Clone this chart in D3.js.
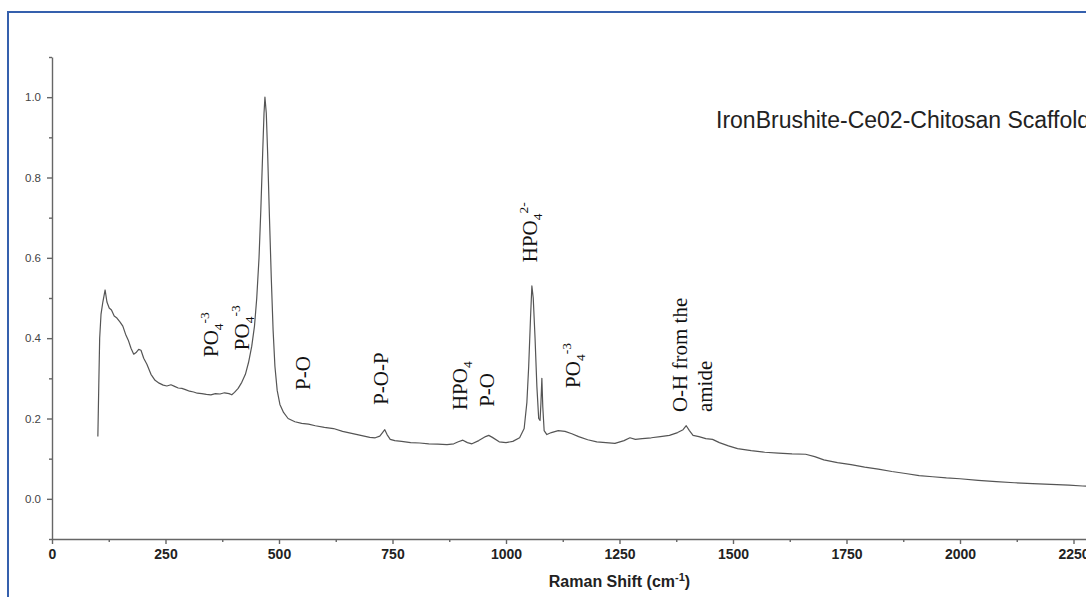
<!DOCTYPE html>
<html>
<head>
<meta charset="utf-8">
<script src="https://cdn.jsdelivr.net/npm/d3@7"></script>
<style>
  body { margin: 0; background: #fff; }
  svg { display: block; }
</style>
</head>
<body>
<svg id="chart"></svg>
<script>
// spectrum
const ramanShift = [101,103,105,108,112,117,121,126,131,137,143,150,156,162,168,174,180,186,191,196,202,209,218,227,236,245,253,262,270,278,286,294,303,312,320,330,340,350,360,370,380,390,396,402,410,418,426,433,440,446,451,456,460,464,467,469,472,475,479,483,487,491,496,502,510,520,535,550,565,580,600,620,640,660,680,700,712,722,728,733,738,745,755,770,790,810,830,850,870,885,895,905,915,925,940,955,962,970,985,1000,1015,1030,1040,1046,1050,1054,1057,1060,1064,1068,1072,1075,1077,1079,1081,1084,1090,1100,1115,1130,1145,1160,1180,1200,1220,1240,1260,1273,1285,1300,1320,1340,1360,1378,1390,1397,1404,1412,1425,1440,1455,1470,1490,1510,1540,1570,1600,1630,1660,1680,1700,1730,1760,1790,1820,1850,1880,1910,1940,1970,2000,2040,2080,2120,2160,2200,2240,2270,2300];
const intensity = [0.155,0.28,0.40,0.46,0.49,0.52,0.49,0.475,0.47,0.455,0.45,0.44,0.43,0.41,0.395,0.375,0.36,0.365,0.372,0.37,0.35,0.335,0.31,0.295,0.288,0.283,0.281,0.284,0.28,0.276,0.275,0.272,0.268,0.266,0.263,0.262,0.26,0.259,0.262,0.261,0.264,0.262,0.259,0.265,0.275,0.29,0.31,0.34,0.38,0.43,0.50,0.60,0.72,0.86,0.96,1.0,0.96,0.86,0.70,0.55,0.42,0.33,0.27,0.235,0.215,0.2,0.192,0.188,0.186,0.182,0.178,0.175,0.168,0.163,0.158,0.153,0.152,0.156,0.165,0.172,0.16,0.148,0.145,0.143,0.14,0.139,0.137,0.136,0.135,0.137,0.142,0.146,0.14,0.137,0.145,0.155,0.158,0.153,0.142,0.14,0.143,0.152,0.175,0.24,0.33,0.45,0.53,0.50,0.40,0.28,0.2,0.195,0.24,0.30,0.23,0.17,0.16,0.165,0.17,0.168,0.162,0.155,0.147,0.142,0.14,0.138,0.145,0.152,0.148,0.15,0.152,0.155,0.158,0.165,0.172,0.182,0.17,0.158,0.155,0.15,0.148,0.14,0.132,0.125,0.12,0.116,0.114,0.112,0.111,0.105,0.097,0.09,0.085,0.079,0.074,0.068,0.063,0.058,0.055,0.052,0.05,0.046,0.043,0.04,0.038,0.036,0.034,0.032,0.031];

const xTicks = [0,250,500,750,1000,1250,1500,1750,2000,2250];
const yTicks = [0,0.2,0.4,0.6,0.8,1.0];

// peak labels: [base text, subscript, superscript], placed at shift / intensity
const peakLabels = [
  { lines: [["PO", "4", "-3"]], shift: 366, level: 0.353 },
  { lines: [["PO", "4", "-3"]], shift: 434, level: 0.37 },
  { lines: [["P-O", "", ""]], shift: 568, level: 0.271 },
  { lines: [["P-O-P", "", ""]], shift: 740, level: 0.234 },
  { lines: [["HPO", "4", ""]], shift: 914, level: 0.221 },
  { lines: [["P-O", "", ""]], shift: 974, level: 0.229 },
  { lines: [["HPO", "4", "2-"]], shift: 1068, level: 0.589 },
  { lines: [["PO", "4", "-3"]], shift: 1163, level: 0.276 },
  { lines: [["O-H from the", "", ""], ["amide", "", ""]], shift: 1399, level: 0.216 }
];

const width = 1086, height = 597;
const svg = d3.select("#chart").attr("width", width).attr("height", height);

// blue frame around the figure
svg.append("rect")
  .attr("x", 8).attr("y", 12)
  .attr("width", 1100).attr("height", 620)
  .attr("fill", "none")
  .attr("stroke", "#3560ad")
  .attr("stroke-width", 2);

const x = d3.scaleLinear().domain([0, 2500]).range([52, 1187]);
const y = d3.scaleLinear().domain([-0.1, 1.1]).range([539, 57]);

// minor ticks
svg.append("g")
  .attr("transform", "translate(0,539)")
  .call(d3.axisBottom(x).tickValues(xTicks.map(d => d + 125)).tickSize(3).tickFormat(""))
  .call(g => g.select(".domain").remove());
svg.append("g")
  .attr("transform", "translate(52,0)")
  .call(d3.axisLeft(y).tickValues(yTicks.map(d => d - 0.1).concat([1.1])).tickSize(3).tickFormat(""))
  .call(g => g.select(".domain").remove());

// major axes
const xAxis = svg.append("g")
  .attr("transform", "translate(0,539)")
  .call(d3.axisBottom(x).tickValues(xTicks).tickFormat(d3.format("d")).tickSize(5).tickSizeOuter(0).tickPadding(5));
xAxis.selectAll("text")
  .attr("font-family", "Arial, 'Liberation Sans', sans-serif")
  .attr("font-size", 14).attr("font-weight", "bold").attr("fill", "#222");

const yAxis = svg.append("g")
  .attr("transform", "translate(52,0)")
  .call(d3.axisLeft(y).tickValues(yTicks).tickFormat(d3.format(".1f")).tickSize(5).tickSizeOuter(0).tickPadding(6));
yAxis.selectAll("text")
  .attr("font-family", "Arial, 'Liberation Sans', sans-serif")
  .attr("font-size", 11.5).attr("fill", "#444");

svg.selectAll(".domain, .tick line")
  .attr("stroke", "#666").attr("stroke-width", 1.4);

// x axis title
const xTitle = svg.append("text")
  .attr("x", x(1250)).attr("y", 587)
  .attr("text-anchor", "middle")
  .attr("font-family", "Arial, 'Liberation Sans', sans-serif")
  .attr("font-size", 16).attr("font-weight", "bold").attr("fill", "#222");
xTitle.append("tspan").text("Raman Shift (cm");
xTitle.append("tspan").attr("font-size", 11).attr("dy", -6).text("-1");
xTitle.append("tspan").attr("dy", 6).text(")");

// spectrum
const line = d3.line()
  .x((d, i) => x(ramanShift[i]))
  .y(d => y(d));
svg.append("path")
  .datum(intensity)
  .attr("d", line)
  .attr("fill", "none")
  .attr("stroke", "#555")
  .attr("stroke-width", 1.2)
  .attr("stroke-linejoin", "round");

// sample name
svg.append("text")
  .attr("x", 716).attr("y", 128)
  .attr("font-family", "Arial, 'Liberation Sans', sans-serif")
  .attr("font-size", 23).attr("fill", "#222")
  .text("IronBrushite-Ce02-Chitosan Scaffold");

// rotated peak assignments
peakLabels.forEach(p => {
  p.lines.forEach((ln, k) => {
    const px = x(p.shift) + k * 25, py = y(p.level);
    const t = svg.append("text")
      .attr("transform", `translate(${px},${py}) rotate(-90)`)
      .attr("font-family", "'Times New Roman', 'Liberation Serif', serif")
      .attr("font-size", 21).attr("fill", "#111");
    t.append("tspan").text(ln[0]);
    let shiftY = 0;
    if (ln[1]) {
      t.append("tspan").attr("font-size", 13.5).attr("dy", 5).text(ln[1]);
      shiftY = 5;
    }
    if (ln[2]) {
      t.append("tspan").attr("font-size", 13.5).attr("dy", -shiftY - 9).text(ln[2]);
    }
  });
});
</script>
</body>
</html>
